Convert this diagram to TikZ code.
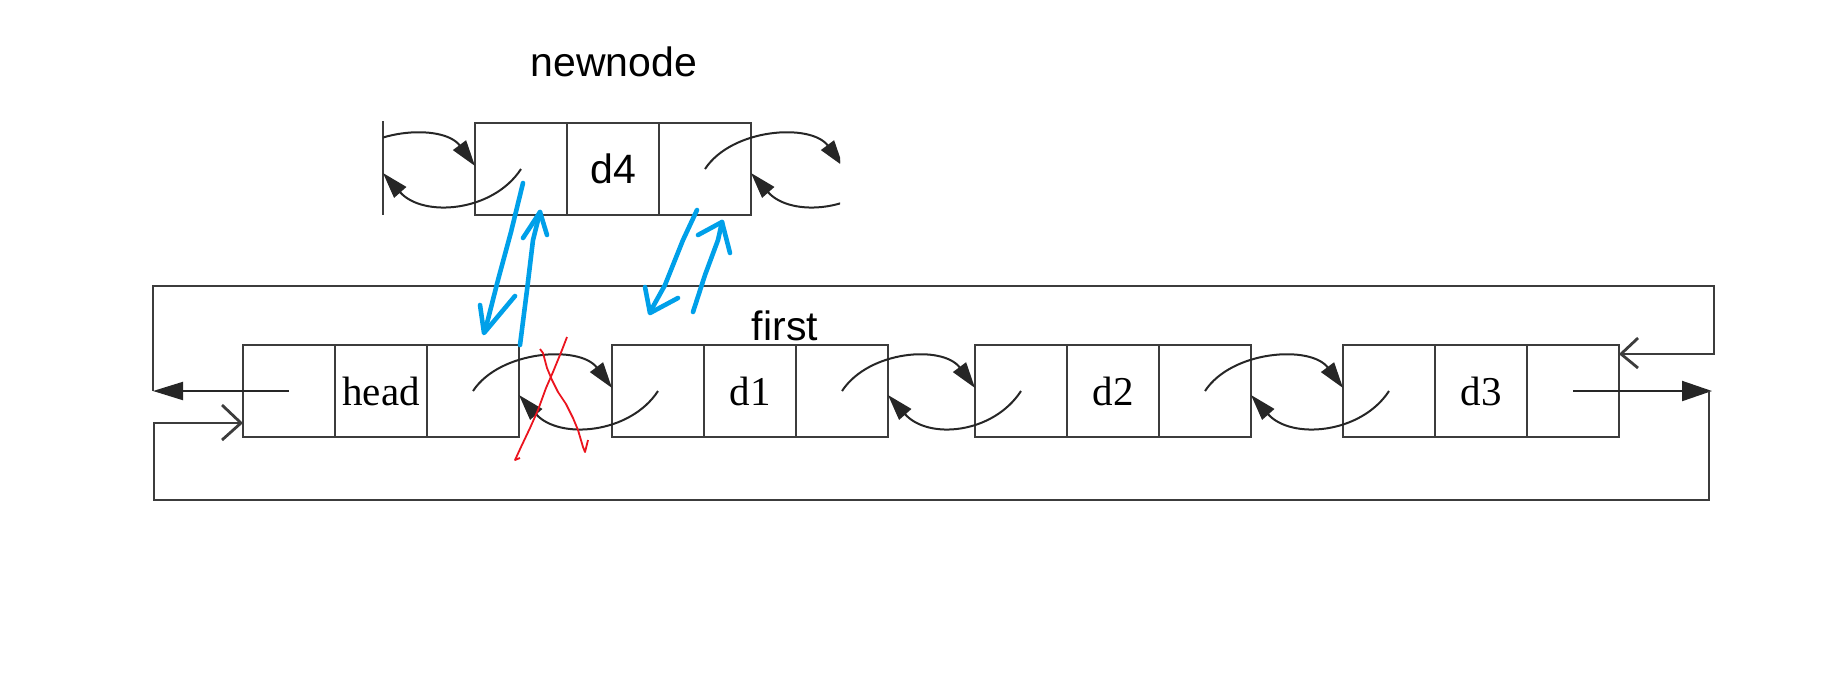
\documentclass[tikz,border=0pt]{standalone}
\usepackage{fontspec}
\setmainfont{Liberation Serif}
\newfontfamily\sansf{Liberation Sans}
\usetikzlibrary{arrows.meta,calc}
\definecolor{pen}{RGB}{0,160,233}
\definecolor{ln}{RGB}{60,60,60}
\definecolor{redpen}{RGB}{235,20,30}
\begin{document}
\begin{tikzpicture}[x=0.5pt,y=-0.5pt,
  cell/.style={draw=ln,line width=1.4pt,minimum width=46pt,minimum height=46pt,inner sep=0pt,outer sep=0pt},
  lbl/.style={font=\fontsize{20.5}{24}\selectfont},
  slbl/.style={font=\sansf\fontsize{20.5}{24}\selectfont},
  crv/.style={draw=black!85,line width=1pt,-{Triangle[length=13pt,width=8pt]}},
  loopl/.style={draw=ln,line width=1.4pt},
  shaft/.style={draw=black!85,line width=1pt},
  bluepen/.style={draw=pen,line width=2.3pt,line cap=round,line join=round},
  redline/.style={draw=redpen,line width=0.9pt,line join=round}
]
\useasboundingbox (0,0) rectangle (1824,692);

% ---- top new node ----
\node[cell] (n1) at (521,169) {};
\node[cell,slbl] (n2) at (613,169) {d4};
\node[cell] (n3) at (705,169) {};
\node[slbl,anchor=base] (newlbl) at (614,76) {newnode};
\coordinate (pv) at (383,169);
\coordinate (nx) at (843,169);
\coordinate (pvt) at (383,121);
\coordinate (pvb) at (383,215);
\draw[loopl] (pvt) -- (pvb);
\begin{scope}
  \clip (383,90) rectangle (840,240);
  \draw[crv] ($(pv)+(-47,0)$) .. controls +(27,-41) and +(-32,-43) .. ($(n1.west)+(0,-3)$);
  \draw[crv] (n1.center) .. controls +(-28,43) and +(40,45) .. ($(pv)+(0,4)$);
  \draw[crv] (n3.center) .. controls +(27,-41) and +(-32,-43) .. ($(nx)+(0,-3)$);
  \draw[crv] ($(nx)+(46,0)$) .. controls +(-28,43) and +(40,45) .. ($(n3.east)+(0,4)$);
\end{scope}

% ---- lower list ----
\node[cell] (h1) at (289,391) {};
\node[cell,lbl] (h2) at (381,391) {head};
\node[cell] (h3) at (473,391) {};
\node[cell] (d1a) at (658,391) {};
\node[cell,lbl] (d1b) at (750,391) {d1};
\node[cell] (d1c) at (842,391) {};
\node[cell] (d2a) at (1021,391) {};
\node[cell,lbl] (d2b) at (1113,391) {d2};
\node[cell] (d2c) at (1205,391) {};
\node[cell] (d3a) at (1389,391) {};
\node[cell,lbl] (d3b) at (1481,391) {d3};
\node[cell] (d3c) at (1573,391) {};
\node[slbl,anchor=base] (firstlbl) at (785,340) {first};

\foreach \a/\b in {h3/d1a, d1c/d2a, d2c/d3a} {
  \draw[crv] (\a.center) .. controls +(27,-41) and +(-32,-43) .. ($(\b.west)+(0,-3)$);
  \draw[crv] (\b.center) .. controls +(-28,43) and +(40,45) .. ($(\a.east)+(0,4)$);
}

% ---- outer loop ----
\coordinate (TL) at (153,286);
\coordinate (TR) at (1714,286);
\coordinate (RI) at (1714,354);
\coordinate (LA) at (153,391);
\coordinate (RA) at (1712,391);
\coordinate (RB) at (1709,391);
\coordinate (BR) at (1709,500);
\coordinate (BL) at (154,500);
\coordinate (LI) at (154,423);
\draw[loopl] ($(d3c.east)+(2,-37)$) -- (RI) -- (TR) -- (TL) -- (LA);
\draw[loopl] ($(d3c.east)+(19,-53)$) -- ($(d3c.east)+(2,-37)$) -- ($(d3c.east)+(19,-23)$);
\draw[shaft,-{Triangle[length=15pt,width=9pt]}] (h1.center) -- (LA);
\draw[shaft,-{Triangle[length=15pt,width=10pt]}] (d3c.center) -- (RA);
\draw[loopl] (RB) -- (BR) -- (BL) -- (LI) -- ($(h1.west)+(-2,32)$);
\draw[loopl] ($(h1.west)+(-21,14)$) -- ($(h1.west)+(-2,32)$) -- ($(h1.west)+(-21,49)$);

% ---- blue hand-drawn arrows ----
\draw[bluepen] (523,183) -- (511,232) -- (498,280) -- (485,331);
\draw[bluepen] (480,305) -- (484,333) -- (515,296);
\draw[bluepen] (520,345) -- (527,290) -- (533,240) -- (540,212);
\draw[bluepen] (523,238) -- (540,212) -- (547,235);
\draw[bluepen] (697,210) -- (683,240) -- (665,285) -- (650,312);
\draw[bluepen] (645,287) -- (650,313) -- (678,298);
\draw[bluepen] (693,312) -- (705,275) -- (718,240) -- (722,222);
\draw[bluepen] (698,235) -- (722,222) -- (730,253);

% ---- red cross ----
\draw[redline] (567,337) -- (562,350) -- (553,372) -- (546,388) -- (538,410) -- (530,428) -- (521,447) -- (515,460) -- (520,458);
\draw[redline] (540,349) -- (543,353) -- (547,368) -- (552,380) -- (558,392) -- (566,404) -- (573,418) -- (578,430) -- (583,447) -- (585,452) -- (588,440);
\end{tikzpicture}
\end{document}
